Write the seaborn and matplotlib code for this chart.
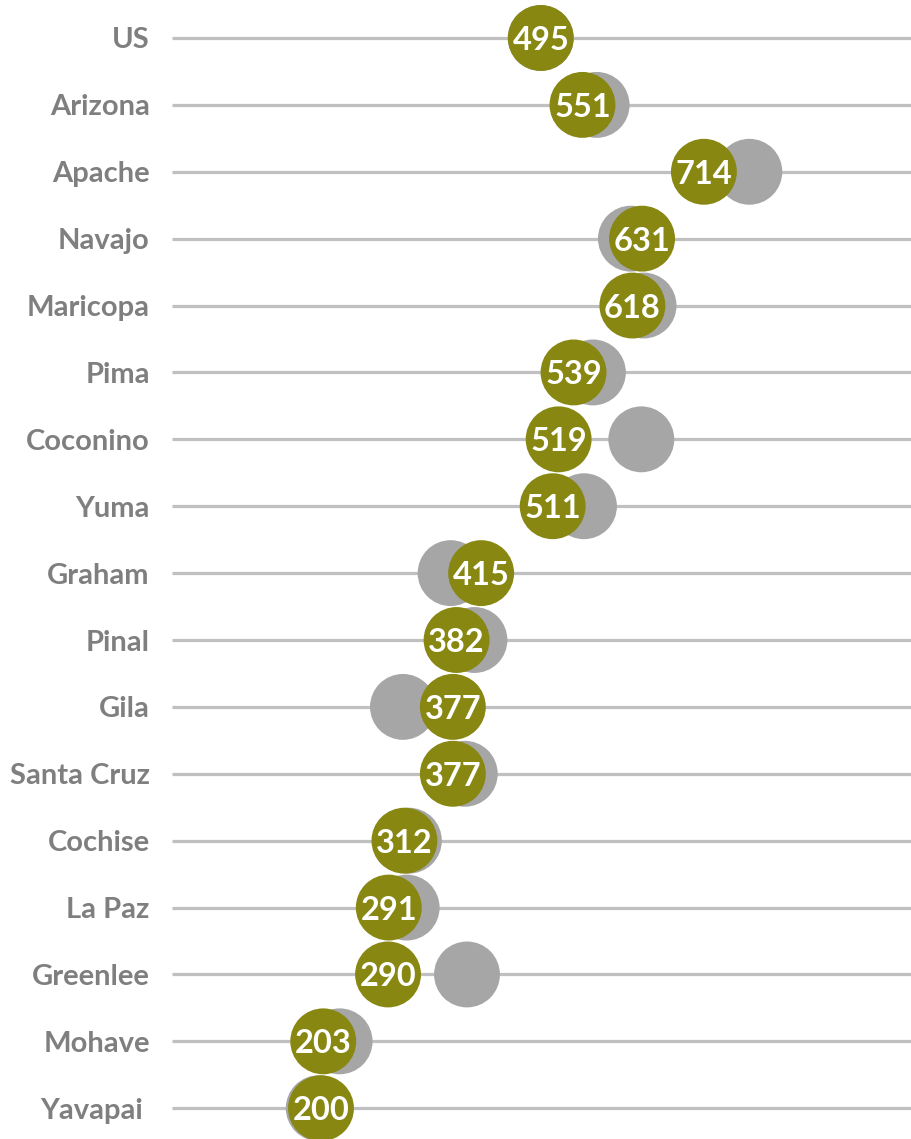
import matplotlib
matplotlib.use("Agg")
import matplotlib.pyplot as plt
import seaborn as sns
import pandas as pd

regions = ["US", "Arizona", "Apache", "Navajo", "Maricopa", "Pima", "Coconino",
           "Yuma", "Graham", "Pinal", "Gila", "Santa Cruz", "Cochise", "La Paz",
           "Greenlee", "Mohave", "Yavapai "]
current = [495, 551, 714, 631, 618, 539, 519, 511, 415, 382, 377, 377, 312, 291, 290, 203, 200]
previous = [495, 570, 775, 616, 633, 565, 630, 553, 374, 406, 310, 393, 318, 315, 396, 225, 197]

OLIVE = "#878712"
GREY_DOT = "#A6A6A6"
GRID = "#C0C0C0"
LABEL = "#7F7F7F"

sns.set_theme(style="white")
plt.rcParams["font.family"] = ["Lato", "DejaVu Sans"]

df = pd.DataFrame({"region": regions, "current": current, "previous": previous})
df["row"] = range(len(df))

fig = plt.figure(figsize=(9.11, 11.39), dpi=100)
ax = fig.add_axes([172 / 911, 0, 1 - 172 / 911, 1])

x_max = 992
ax.hlines(df["row"], 0, x_max, color=GRID, linewidth=2.3, zorder=1)

size = 2250
sns.scatterplot(data=df, x="previous", y="row", s=size, color=GREY_DOT,
                edgecolor="none", ax=ax, zorder=2, legend=False)
sns.scatterplot(data=df, x="current", y="row", s=size, color=OLIVE,
                edgecolor="none", ax=ax, zorder=3, legend=False)

for r, v in zip(df["row"], df["current"]):
    ax.text(v, r, str(v), ha="center", va="center_baseline", color="white",
            fontsize=23.5, fontweight="bold", zorder=4)

ax.set_xlim(0, x_max)
n = len(regions)
ax.set_ylim(n - 0.54, -0.568)
ax.set_yticks(df["row"])
ax.set_yticklabels(regions, fontsize=21, fontweight="bold", color=LABEL)
ax.tick_params(axis="y", length=0, pad=16)
ax.set_xticks([])
ax.set_xlabel("")
ax.set_ylabel("")
for sp in ax.spines.values():
    sp.set_visible(False)

fig.savefig("out.png", dpi=100)
